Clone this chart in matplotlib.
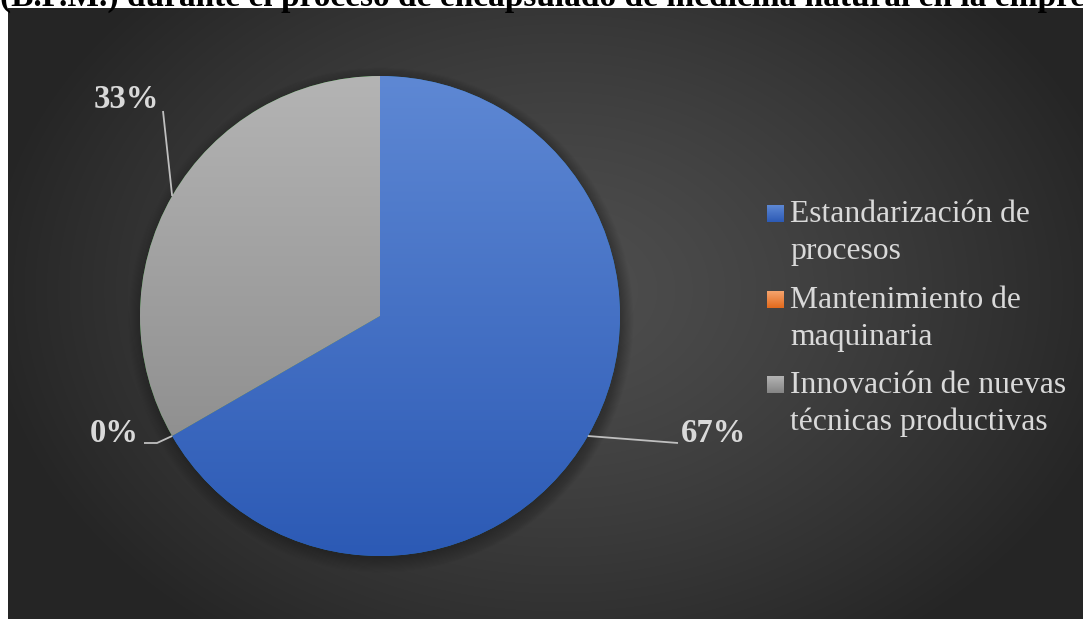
import matplotlib
matplotlib.use("Agg")
import matplotlib.pyplot as plt
from matplotlib.patches import Circle, Rectangle
from matplotlib.colors import to_rgb
import numpy as np

# datos
categorias = ["Estandarización de\nprocesos",
              "Mantenimiento de\nmaquinaria",
              "Innovación de nuevas\ntécnicas productivas"]
valores = [2, 0, 1]
etiquetas = ["67%", "0%", "33%"]
titulo = "(B.P.M.) durante el proceso de encapsulado de medicina natural en la empresa"

# degradados (arriba, abajo) de cada categoria
colores = [("#5e88d4", "#2c5ab5"),
           ("#f5a46e", "#e2691b"),
           ("#b4b4b4", "#848484")]

W, H = 1083, 619
fuente = "Liberation Serif"
gris_txt = "#d9d9d9"

fig = plt.figure(figsize=(W / 100, H / 100), dpi=100)
ax = fig.add_axes([0, 0, 1, 1])
ax.set_xlim(0, W)
ax.set_ylim(0, H)
ax.axis("off")


def vgrad(c_top, c_bot, n=256):
    a = np.array(to_rgb(c_top))
    b = np.array(to_rgb(c_bot))
    t = np.linspace(0, 1, n)[:, None]
    return (a * (1 - t) + b * t)[:, None, :]


# fondo oscuro con degradado radial
x0, y0 = 8, 8
xs = np.arange(x0, W)
ys = np.arange(y0, H)
XX, YY = np.meshgrid(xs, ys)
d = np.sqrt(((XX - 560) / 580.0) ** 2 + ((YY - 290) / 430.0) ** 2)
d = np.clip(d, 0, 1) ** 1.3
c_in = np.array(to_rgb("#4e4e4e"))
c_out = np.array(to_rgb("#252525"))
bg = c_in * (1 - d[..., None]) + c_out * d[..., None]
ax.imshow(bg, extent=(x0, W, 0, H - y0), origin="upper", zorder=0)

# titulo (queda cortado por arriba)
ax.text(0, H - 6, titulo, fontsize=24, fontweight="bold", family=fuente,
        color="black", ha="left", va="baseline", zorder=1, clip_on=False)

# tarta con sombra suave
cx, cy, R = 380, H - 316, 240
for k in range(14):
    ax.add_patch(Circle((cx + 1, cy - 4), R - 2 + k * 1.1, color="black",
                        alpha=0.018, lw=0, zorder=1))

wedges, _ = ax.pie(valores, startangle=90, counterclock=False, radius=R,
                   center=(cx, cy), frame=True,
                   wedgeprops=dict(lw=0))
for w, (ct, cb) in zip(wedges, colores):
    w.set_zorder(2)
    im = ax.imshow(vgrad(ct, cb), extent=(cx - R, cx + R, cy - R, cy + R),
                   aspect="auto", zorder=3)
    im.set_clip_path(w)

ax.set_xlim(0, W)
ax.set_ylim(0, H)
ax.set_aspect("auto")
ax.axis("off")

# etiquetas de porcentaje con lineas guia
total = sum(valores)
acum = 0
medios = []
for v in valores:
    ang = np.deg2rad(90 - 360 * (acum + v / 2) / total)
    medios.append(ang)
    acum += v

pos_etq = [(713, H - 433), (114, H - 433), (126, H - 100)]
codos = [[(678, H - 443)],
         [(157, H - 443), (144, H - 443)],
         [(163, H - 111)]]
for ang, txt, (tx, ty), codo in zip(medios, etiquetas, pos_etq, codos):
    px, py = cx + R * np.cos(ang), cy + R * np.sin(ang)
    pts = [(px, py)] + codo
    ax.plot([p[0] for p in pts], [p[1] for p in pts], color="#bfbfbf",
            lw=1.3, zorder=4, solid_capstyle="butt")
    ax.text(tx, ty, txt, fontsize=23.5, fontweight="bold", family=fuente,
            color=gris_txt, ha="center", va="center", zorder=5)

# leyenda
base = [222, 308, 393]
for cat, (ct, cb), b in zip(categorias, colores, base):
    sq = Rectangle((767, H - b), 17, 17, lw=0, zorder=4, facecolor="none")
    ax.add_patch(sq)
    im = ax.imshow(vgrad(ct, cb), extent=(767, 784, H - b, H - b + 17),
                   aspect="auto", zorder=4)
    im.set_clip_path(sq)
    for j, linea in enumerate(cat.split("\n")):
        ax.text(790, H - b - j * 37, linea, fontsize=22.8, family=fuente,
                color=gris_txt, ha="left", va="baseline", zorder=5)

ax.set_xlim(0, W)
ax.set_ylim(0, H)
fig.savefig("out.png", dpi=100, facecolor="white")
